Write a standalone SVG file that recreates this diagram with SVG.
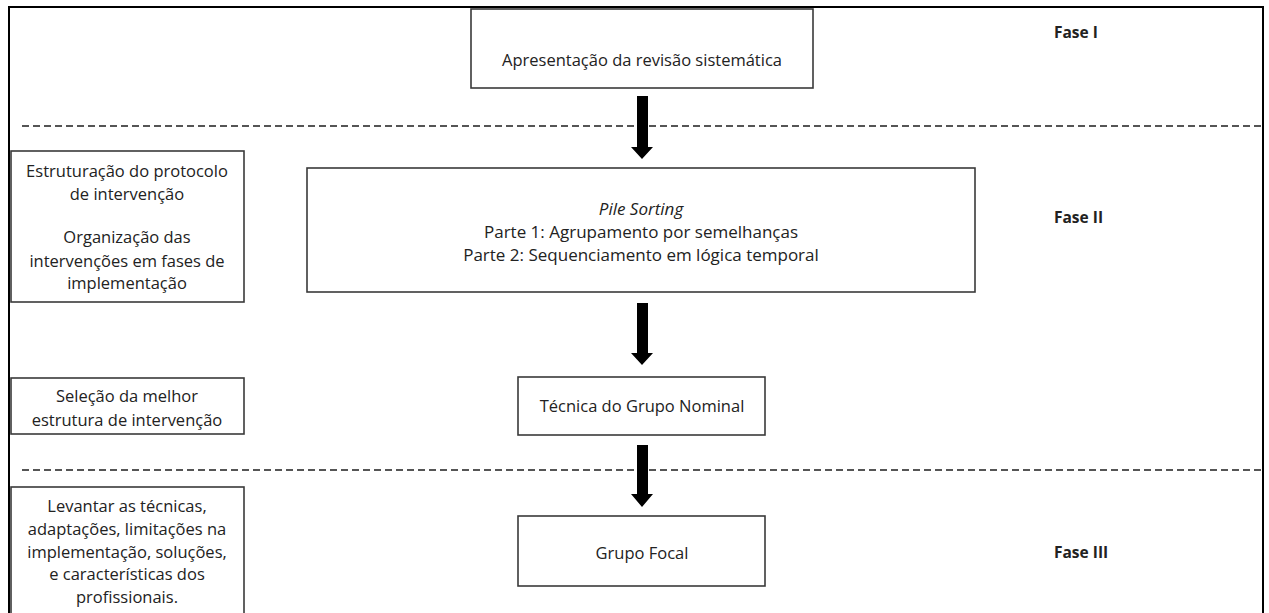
<svg xmlns="http://www.w3.org/2000/svg" width="1269" height="613" viewBox="0 0 1269 613">
<style>
.box{fill:#fff;stroke:#3a3a3a;stroke-width:1.6}
.t{font-family:"Open Sans",Lato,sans-serif;font-size:16.5px;fill:#222;text-anchor:middle}
.p{font-size:17px}
.f{font-family:"Open Sans",Lato,sans-serif;font-size:15.5px;font-weight:bold;fill:#222}
.dash{stroke:#555;stroke-width:2;stroke-dasharray:7 4;fill:none}
.arr{fill:#000}
</style>
<rect x="0" y="0" width="1269" height="613" fill="#fff"/>
<rect x="9" y="7" width="1254" height="640" fill="none" stroke="#000" stroke-width="2"/>
<line class="dash" x1="22" y1="126" x2="1262" y2="126"/>
<line class="dash" x1="22" y1="470" x2="1262" y2="470"/>
<g id="connectors">
<polygon class="arr" points="637,96 648,96 648,147 653,147 642,159 631,147 637,147"/>
<polygon class="arr" points="637,303 648,303 648,353 653,353 642,365 631,353 637,353"/>
<polygon class="arr" points="637,445 648,445 648,494 653,494 642,507 631,494 637,494"/>
</g>
<g id="n-apresentacao">
<rect class="box" x="471" y="9" width="342" height="79"/>
<text class="t" x="642" y="66">Apresentação da revisão sistemática</text>
</g>
<g id="n-pile">
<rect class="box" x="307" y="168" width="668" height="124"/>
<text class="t p" x="641" y="215" font-style="italic">Pile Sorting</text>
<text class="t p" x="641" y="238">Parte 1: Agrupamento por semelhanças</text>
<text class="t p" x="641" y="261">Parte 2: Sequenciamento em lógica temporal</text>
</g>
<g id="n-tecnica">
<rect class="box" x="518" y="377" width="247" height="58"/>
<text class="t" x="642" y="412">Técnica do Grupo Nominal</text>
</g>
<g id="n-focal">
<rect class="box" x="518" y="516" width="247" height="70"/>
<text class="t" x="642" y="559">Grupo Focal</text>
</g>
<g id="n-estrut">
<rect class="box" x="11" y="151" width="233" height="151"/>
<text class="t" x="127" y="177">Estruturação do protocolo</text>
<text class="t" x="127" y="200">de intervenção</text>
<text class="t" x="127" y="243">Organização das</text>
<text class="t" x="127" y="267">intervenções em fases de</text>
<text class="t" x="127" y="289">implementação</text>
</g>
<g id="n-selecao">
<rect class="box" x="11" y="378" width="233" height="56"/>
<text class="t" x="127" y="402">Seleção da melhor</text>
<text class="t" x="127" y="426">estrutura de intervenção</text>
</g>
<g id="n-levantar">
<rect class="box" x="11" y="487" width="233" height="160"/>
<text class="t" x="127" y="512">Levantar as técnicas,</text>
<text class="t" x="127" y="535">adaptações, limitações na</text>
<text class="t" x="127" y="558">implementação, soluções,</text>
<text class="t" x="127" y="580">e características dos</text>
<text class="t" x="127" y="603">profissionais.</text>
</g>
<g id="n-fases">
<text class="f" x="1054" y="38">Fase I</text>
<text class="f" x="1054" y="223">Fase II</text>
<text class="f" x="1054" y="558">Fase III</text>
</g>
</svg>
